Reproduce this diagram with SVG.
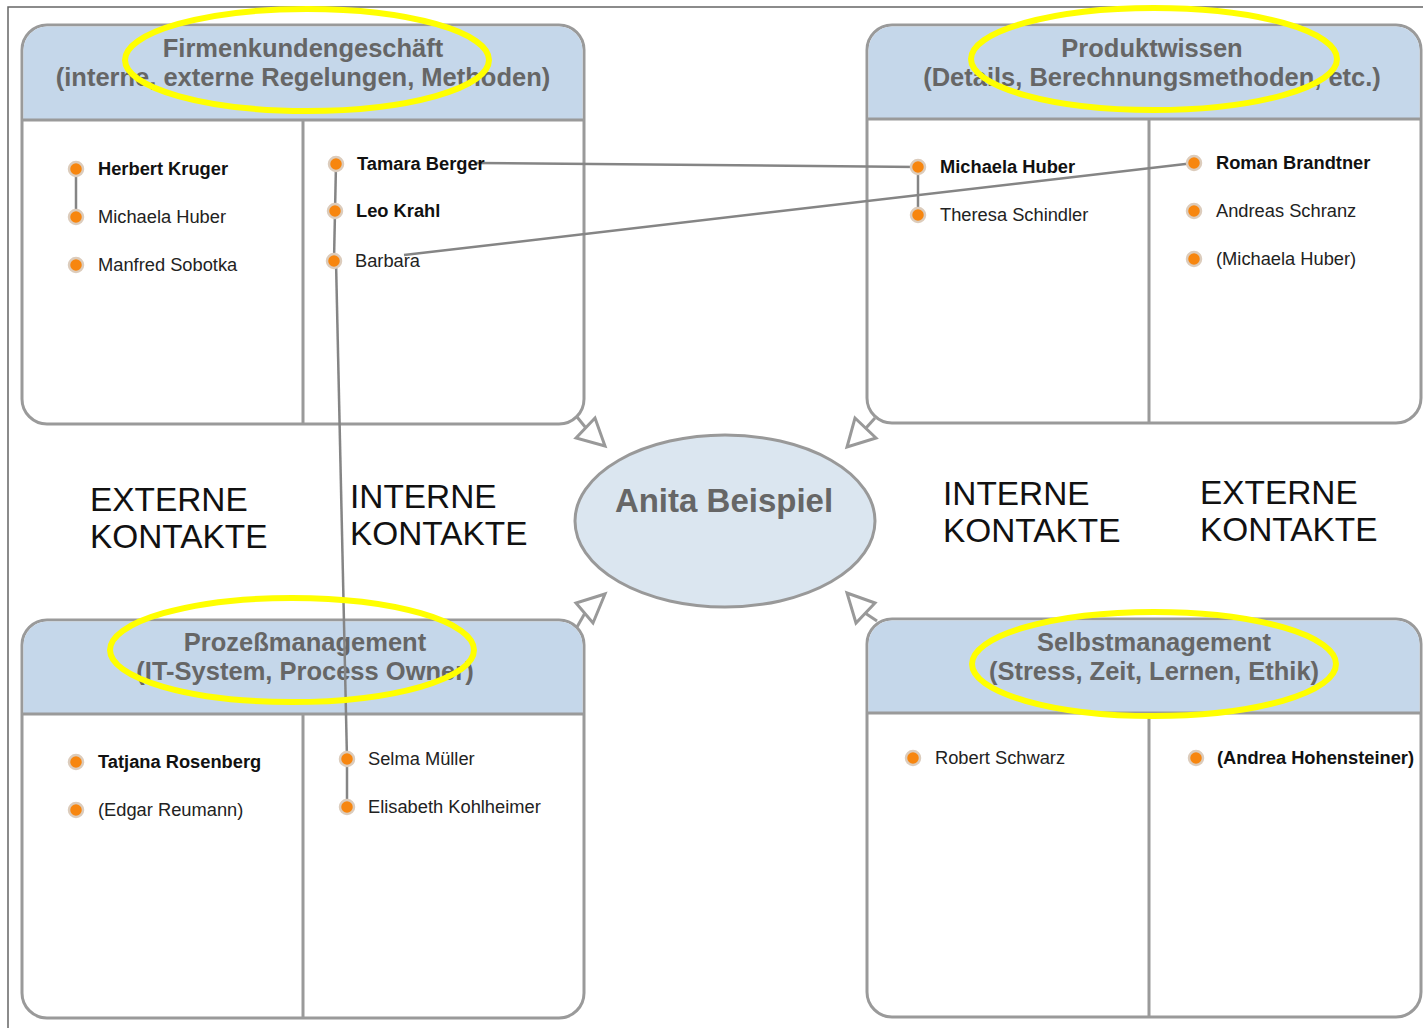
<svg xmlns="http://www.w3.org/2000/svg" width="1423" height="1028" viewBox="0 0 1423 1028">
  <defs>
    <style>
      .panel { fill: #ffffff; stroke: #9a9a9a; stroke-width: 3; }
      .head { fill: #c5d7ea; }
      .rule { stroke: #9a9a9a; stroke-width: 3; fill: none; }
      .title { font-family: "Liberation Sans", Arial, sans-serif; font-weight: bold; font-size: 25.5px; fill: #666666; text-anchor: middle; }
      .name { font-family: "Liberation Sans", Arial, sans-serif; font-size: 18.3px; fill: #222222; }
      .b { font-weight: bold; fill: #111111; }
      .big { font-family: "Liberation Sans", Arial, sans-serif; font-size: 33.4px; fill: #111111; }
      .dot { fill: #f7860f; stroke: #dcccbc; stroke-width: 2.5; }
      .link { stroke: #858585; stroke-width: 2.5; fill: none; }
      .arrow { fill: #ffffff; stroke: #999999; stroke-width: 3; stroke-linejoin: miter; }
      .stem { stroke: #999999; stroke-width: 3; }
      .mark { fill: none; stroke: #ffff00; stroke-width: 6; }
    </style>
  </defs>

  <rect width="1423" height="1028" fill="#ffffff"/>
  <!-- page frame -->
  <path d="M8 1028 V7 H1423" fill="none" stroke="#666666" stroke-width="1.5"/>

  <!-- Firmenkundengeschäft -->
  <g id="panel-firmenkunden">
    <rect class="panel" x="22" y="25" width="562" height="399" rx="25"/>
    <path class="head" d="M47 26.5 H559 A23.5 23.5 0 0 1 582.5 50 V119 H23.5 V50 A23.5 23.5 0 0 1 47 26.5 Z"/>
    <line class="rule" x1="22" y1="120" x2="584" y2="120"/>
    <line class="rule" x1="303" y1="120" x2="303" y2="424"/>
    <text class="title" x="303" y="57">Firmenkundengeschäft</text>
    <text class="title" x="303" y="86">(interne, externe Regelungen, Methoden)</text>
  </g>

  <!-- Produktwissen -->
  <g id="panel-produktwissen">
    <rect class="panel" x="867" y="25" width="554" height="398" rx="25"/>
    <path class="head" d="M892 26.5 H1396 A23.5 23.5 0 0 1 1419.5 50 V118 H868.5 V50 A23.5 23.5 0 0 1 892 26.5 Z"/>
    <line class="rule" x1="867" y1="119" x2="1421" y2="119"/>
    <line class="rule" x1="1149" y1="119" x2="1149" y2="423"/>
    <text class="title" x="1152" y="57">Produktwissen</text>
    <text class="title" x="1152" y="86">(Details, Berechnungsmethoden, etc.)</text>
  </g>

  <!-- Prozeßmanagement -->
  <g id="panel-prozess">
    <rect class="panel" x="22" y="620" width="562" height="398" rx="25"/>
    <path class="head" d="M47 621.5 H559 A23.5 23.5 0 0 1 582.5 645 V713 H23.5 V645 A23.5 23.5 0 0 1 47 621.5 Z"/>
    <line class="rule" x1="22" y1="714" x2="584" y2="714"/>
    <line class="rule" x1="303" y1="714" x2="303" y2="1018"/>
    <text class="title" x="305" y="651">Prozeßmanagement</text>
    <text class="title" x="305" y="680">(IT-System, Process Owner)</text>
  </g>

  <!-- Selbstmanagement -->
  <g id="panel-selbst">
    <rect class="panel" x="867" y="619" width="554" height="398" rx="25"/>
    <path class="head" d="M892 620.5 H1396 A23.5 23.5 0 0 1 1419.5 644 V712 H868.5 V644 A23.5 23.5 0 0 1 892 620.5 Z"/>
    <line class="rule" x1="867" y1="713" x2="1421" y2="713"/>
    <line class="rule" x1="1149" y1="713" x2="1149" y2="1017"/>
    <text class="title" x="1154" y="651">Selbstmanagement</text>
    <text class="title" x="1154" y="680">(Stress, Zeit, Lernen, Ethik)</text>
  </g>

  <!-- centre person -->
  <g id="person">
    <ellipse cx="725" cy="521" rx="150" ry="86" fill="#dbe6f0" stroke="#999999" stroke-width="3"/>
    <text x="724" y="512" font-family="Liberation Sans, Arial, sans-serif" font-weight="bold" font-size="33" fill="#666666" text-anchor="middle">Anita Beispiel</text>
  </g>

  <!-- area labels -->
  <g id="labels">
    <text class="big" x="90" y="511">EXTERNE</text>
    <text class="big" x="90" y="548">KONTAKTE</text>
    <text class="big" x="350" y="508">INTERNE</text>
    <text class="big" x="350" y="545">KONTAKTE</text>
    <text class="big" x="943" y="505">INTERNE</text>
    <text class="big" x="943" y="542">KONTAKTE</text>
    <text class="big" x="1200" y="504">EXTERNE</text>
    <text class="big" x="1200" y="541">KONTAKTE</text>
  </g>

  <!-- connectors -->
  <g id="connectors">
    <!-- panels to person -->
    <line class="stem" x1="577" y1="417" x2="586" y2="428"/>
    <polygon class="arrow" points="576,438 595,418 605,446"/>
    <line class="stem" x1="875" y1="418" x2="866" y2="428"/>
    <polygon class="arrow" points="855,418 876,438 847,447"/>
    <line class="stem" x1="577" y1="627" x2="585" y2="613"/>
    <polygon class="arrow" points="576,603 593,623 605,594"/>
    <line class="stem" x1="877" y1="621" x2="865" y2="613"/>
    <polygon class="arrow" points="847,593 875,603 856,623"/>

    <!-- contact links -->
    <line class="link" x1="76" y1="169" x2="76" y2="217"/>
    <line class="link" x1="336" y1="164" x2="334" y2="261"/>
    <line class="link" x1="336" y1="261" x2="347" y2="759"/>
    <line class="link" x1="347" y1="759" x2="347" y2="807"/>
    <line class="link" x1="918" y1="167" x2="918" y2="215"/>
    <line class="link" x1="476" y1="163" x2="918" y2="167"/>
    <line class="link" x1="404" y1="255" x2="1194" y2="163"/>
  </g>

  <!-- contacts -->
  <g id="contacts-firmenkunden">
    <circle class="dot" cx="76" cy="169" r="7"/>
    <text class="name b" x="98" y="175">Herbert Kruger</text>
    <circle class="dot" cx="76" cy="217" r="7"/>
    <text class="name" x="98" y="223">Michaela Huber</text>
    <circle class="dot" cx="76" cy="265" r="7"/>
    <text class="name" x="98" y="271">Manfred Sobotka</text>
    <circle class="dot" cx="336" cy="164" r="7"/>
    <text class="name b" x="357" y="170">Tamara Berger</text>
    <circle class="dot" cx="335" cy="211" r="7"/>
    <text class="name b" x="356" y="217">Leo Krahl</text>
    <circle class="dot" cx="334" cy="261" r="7"/>
    <text class="name" x="355" y="267">Barbara</text>
  </g>

  <g id="contacts-produktwissen">
    <circle class="dot" cx="918" cy="167" r="7"/>
    <text class="name b" x="940" y="173">Michaela Huber</text>
    <circle class="dot" cx="918" cy="215" r="7"/>
    <text class="name" x="940" y="221">Theresa Schindler</text>
    <circle class="dot" cx="1194" cy="163" r="7"/>
    <text class="name b" x="1216" y="169">Roman Brandtner</text>
    <circle class="dot" cx="1194" cy="211" r="7"/>
    <text class="name" x="1216" y="217">Andreas Schranz</text>
    <circle class="dot" cx="1194" cy="259" r="7"/>
    <text class="name" x="1216" y="265">(Michaela Huber)</text>
  </g>

  <g id="contacts-prozess">
    <circle class="dot" cx="76" cy="762" r="7"/>
    <text class="name b" x="98" y="768">Tatjana Rosenberg</text>
    <circle class="dot" cx="76" cy="810" r="7"/>
    <text class="name" x="98" y="816">(Edgar Reumann)</text>
    <circle class="dot" cx="347" cy="759" r="7"/>
    <text class="name" x="368" y="765">Selma Müller</text>
    <circle class="dot" cx="347" cy="807" r="7"/>
    <text class="name" x="368" y="813">Elisabeth Kohlheimer</text>
  </g>

  <g id="contacts-selbst">
    <circle class="dot" cx="913" cy="758" r="7"/>
    <text class="name" x="935" y="764">Robert Schwarz</text>
    <circle class="dot" cx="1196" cy="758" r="7"/>
    <text class="name b" x="1217" y="764">(Andrea Hohensteiner)</text>
  </g>

  <!-- highlight rings over the topic headings -->
  <g id="highlights">
    <ellipse class="mark" cx="307" cy="60" rx="182" ry="51"/>
    <ellipse class="mark" cx="1154" cy="59" rx="183" ry="51"/>
    <ellipse class="mark" cx="292" cy="650" rx="182" ry="52"/>
    <ellipse class="mark" cx="1154" cy="664" rx="182" ry="52"/>
  </g>
</svg>
